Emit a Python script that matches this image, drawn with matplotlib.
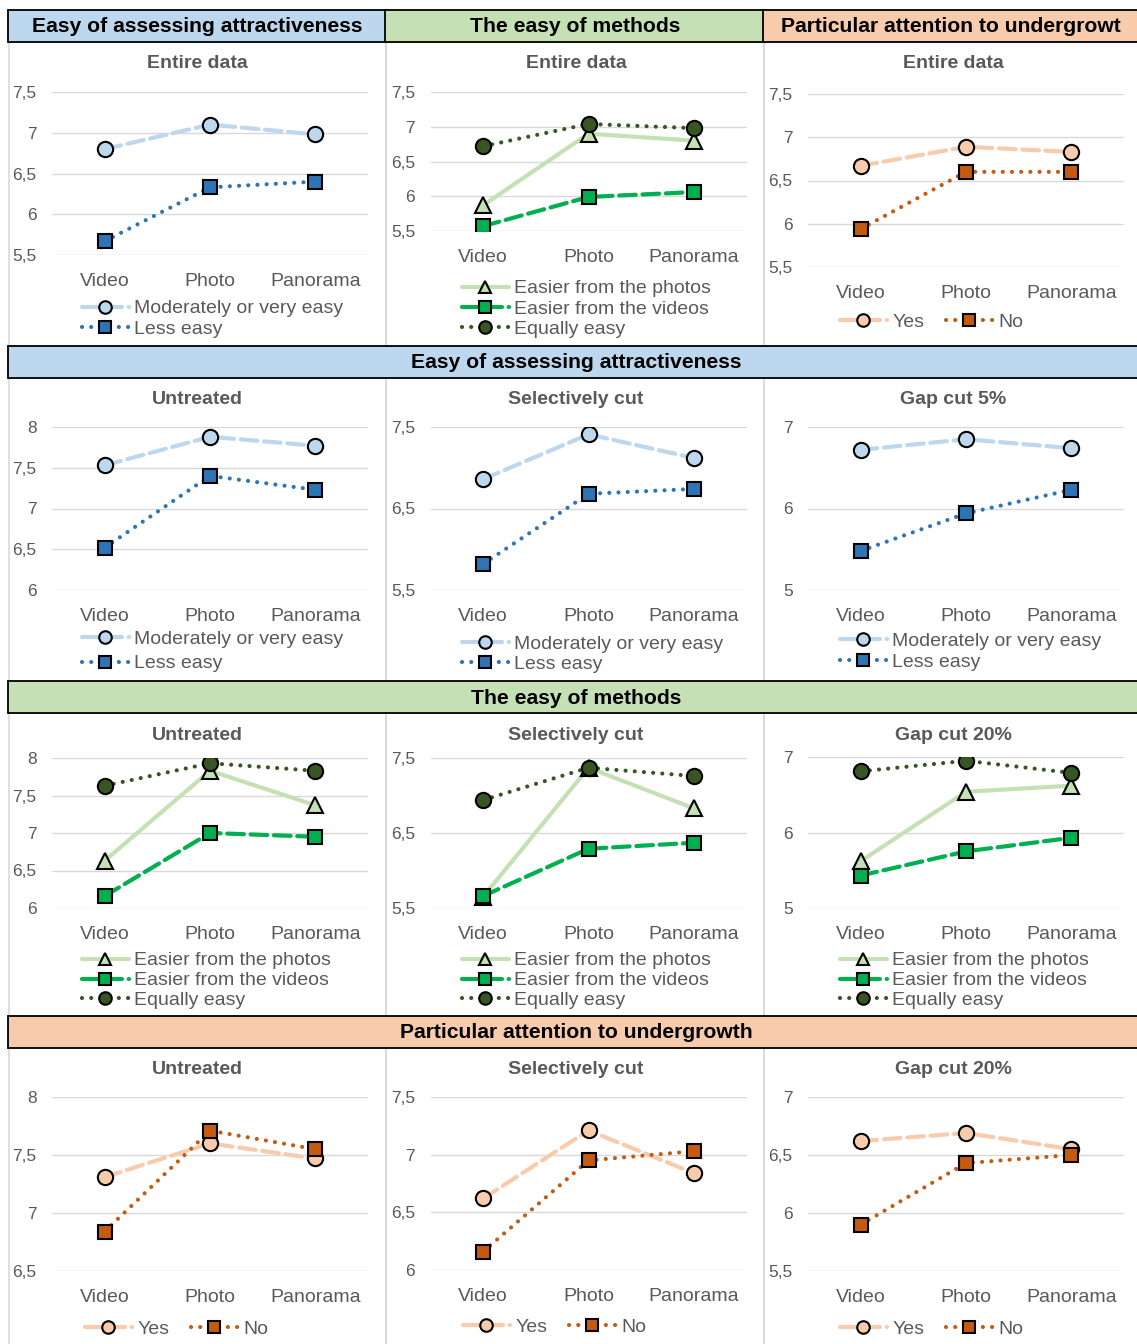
import numpy as np
import matplotlib.pyplot as plt
from matplotlib.patches import Rectangle
from matplotlib.ticker import FuncFormatter

plt.rcParams['font.family'] = ['Liberation Sans', 'DejaVu Sans']

W, H = 1137, 1344
cats = ['Video', 'Photo', 'Panorama']

# --- data ---
# Easy of assessing attractiveness
att_entire_mod = [6.80, 7.10, 6.98]
att_entire_less = [5.67, 6.33, 6.40]
att_untr_mod = [7.53, 7.88, 7.77]
att_untr_less = [6.52, 7.40, 7.23]
att_sel_mod = [6.86, 7.41, 7.12]
att_sel_less = [5.82, 6.68, 6.74]
att_gap5_mod = [6.72, 6.85, 6.74]
att_gap5_less = [5.48, 5.94, 6.23]

# The easy of methods
met_entire_photos = [5.87, 6.90, 6.80]
met_entire_videos = [5.57, 5.99, 6.06]
met_entire_equal = [6.72, 7.04, 6.98]
met_untr_photos = [6.63, 7.83, 7.37]
met_untr_videos = [6.16, 7.00, 6.95]
met_untr_equal = [7.63, 7.93, 7.83]
met_sel_photos = [5.65, 7.37, 6.83]
met_sel_videos = [5.66, 6.29, 6.37]
met_sel_equal = [6.94, 7.37, 7.26]
met_gap20_photos = [5.62, 6.54, 6.62]
met_gap20_videos = [5.43, 5.75, 5.93]
met_gap20_equal = [6.81, 6.95, 6.79]

# Particular attention to undergrowth
und_entire_yes = [6.67, 6.89, 6.83]
und_entire_no = [5.94, 6.60, 6.60]
und_untr_yes = [7.31, 7.60, 7.47]
und_untr_no = [6.84, 7.71, 7.55]
und_sel_yes = [6.62, 7.21, 6.84]
und_sel_no = [6.16, 6.95, 7.03]
und_gap20_yes = [6.62, 6.69, 6.55]
und_gap20_no = [5.90, 6.43, 6.50]

labels_att = ['Moderately or very easy', 'Less easy']
labels_met = ['Easier from the photos', 'Easier from the videos', 'Equally easy']
labels_und = ['Yes', 'No']

BLUE_L, BLUE_D = '#BDD7EE', '#2E75B6'
GREEN_L, GREEN_M, GREEN_D = '#C5E0B4', '#00B050', '#375623'
ORANGE_L, ORANGE_D = '#F8CBAD', '#C55A11'
GRAY = '#595959'

dashed = (0, (4, 1.6))
dotted = (0, (0.01, 2.2))
styles = {
    'mod': dict(color=BLUE_L, ls=dashed, marker='o', ms=11),
    'less': dict(color=BLUE_D, ls=dotted, marker='s', ms=10),
    'photos': dict(color=GREEN_L, ls='-', marker='^', ms=11),
    'videos': dict(color=GREEN_M, ls=dashed, marker='s', ms=10),
    'equal': dict(color=GREEN_D, ls=dotted, marker='o', ms=11),
    'yes': dict(color=ORANGE_L, ls=dashed, marker='o', ms=11),
    'no': dict(color=ORANGE_D, ls=dotted, marker='s', ms=10),
}

col_left = [52, 430.5, 808]
col_mid = [197, 576, 953]
plot_w = 316

# panel: (col, title, title_y, y_top_px, y_bot_px, ylim, yticks, series, labels, legend)
panels = [
    (0, 'Entire data', 64, 92, 255, (5.5, 7.5), [5.5, 6, 6.5, 7, 7.5],
     [('mod', att_entire_mod), ('less', att_entire_less)], labels_att, (82, 319, 1, 0.16)),
    (1, 'Entire data', 64, 92, 231, (5.5, 7.5), [5.5, 6, 6.5, 7, 7.5],
     [('photos', met_entire_photos), ('videos', met_entire_videos), ('equal', met_entire_equal)],
     labels_met, (462, 309, 1, 0.14)),
    (2, 'Entire data', 64, 94, 267, (5.5, 7.5), [5.5, 6, 6.5, 7, 7.5],
     [('yes', und_entire_yes), ('no', und_entire_no)], labels_und, (840, 322, 2, 0)),
    (0, 'Untreated', 400, 427, 590, (6, 8), [6, 6.5, 7, 7.5, 8],
     [('mod', att_untr_mod), ('less', att_untr_less)], labels_att, (82, 651.5, 1, 0.33)),
    (1, 'Selectively cut', 400, 427, 590, (5.5, 7.5), [5.5, 6.5, 7.5],
     [('mod', att_sel_mod), ('less', att_sel_less)], labels_att, (462, 654, 1, 0.12)),
    (2, 'Gap cut 5%', 400, 427, 590, (5, 7), [5, 6, 7],
     [('mod', att_gap5_mod), ('less', att_gap5_less)], labels_att, (840, 651.5, 1, 0.2)),
    (0, 'Untreated', 735, 758, 908, (6, 8), [6, 6.5, 7, 7.5, 8],
     [('photos', met_untr_photos), ('videos', met_untr_videos), ('equal', met_untr_equal)],
     labels_met, (82, 980.5, 1, 0.12)),
    (1, 'Selectively cut', 735, 758, 908, (5.5, 7.5), [5.5, 6.5, 7.5],
     [('photos', met_sel_photos), ('videos', met_sel_videos), ('equal', met_sel_equal)],
     labels_met, (462, 980.5, 1, 0.12)),
    (2, 'Gap cut 20%', 735, 757, 908, (5, 7), [5, 6, 7],
     [('photos', met_gap20_photos), ('videos', met_gap20_videos), ('equal', met_gap20_equal)],
     labels_met, (840, 980.5, 1, 0.12)),
    (0, 'Untreated', 1070, 1097, 1271, (6.5, 8), [6.5, 7, 7.5, 8],
     [('yes', und_untr_yes), ('no', und_untr_no)], labels_und, (85, 1329, 2, 0)),
    (1, 'Selectively cut', 1070, 1097, 1270, (6, 7.5), [6, 6.5, 7, 7.5],
     [('yes', und_sel_yes), ('no', und_sel_no)], labels_und, (463, 1327, 2, 0)),
    (2, 'Gap cut 20%', 1070, 1097, 1271, (5.5, 7), [5.5, 6, 6.5, 7],
     [('yes', und_gap20_yes), ('no', und_gap20_no)], labels_und, (840, 1329, 2, 0)),
]

fig = plt.figure(figsize=(W / 100, H / 100), dpi=100)
fig.patch.set_facecolor('white')

# background layer in pixel coordinates
bg = fig.add_axes([0, 0, 1, 1], zorder=0)
bg.set_xlim(0, W)
bg.set_ylim(H, 0)
bg.axis('off')

# panel frames
row_spans = [(42, 346), (378, 681), (713, 1016), (1048, 1350)]
col_spans = [(9, 386), (386, 764), (764, 1145)]
for y0, y1 in row_spans:
    for x0, x1 in col_spans:
        bg.add_patch(Rectangle((x0, y0), x1 - x0, y1 - y0, fill=False,
                               edgecolor='#D9D9D9', lw=1.2))

# section headers
head_kw = dict(ha='center', va='center', fontsize=15.2, fontweight='bold', color='black')
for (x0, x1), fc, txt in zip(col_spans, [BLUE_L, GREEN_L, ORANGE_L],
                             ['Easy of assessing attractiveness', 'The easy of methods',
                              'Particular attention to undergrowt']):
    bg.add_patch(Rectangle((x0 - 1, 10), x1 - x0 + 1, 32, facecolor=fc,
                           edgecolor='black', lw=1.3))
    bg.text((x0 + min(x1, W)) / 2, 27, txt, **head_kw)

for y0, fc, txt in [(346, BLUE_L, 'Easy of assessing attractiveness'),
                    (681, GREEN_L, 'The easy of methods'),
                    (1016, ORANGE_L, 'Particular attention to undergrowth')]:
    bg.add_patch(Rectangle((8, y0), W, 32, facecolor=fc, edgecolor='black', lw=1.3))
    bg.text(576, y0 + 17, txt, **head_kw)

fmt = FuncFormatter(lambda v, p: f'{v:g}'.replace('.', ','))

for col, title, ty, ytop, ybot, ylim, yticks, series, labels, leg in panels:
    bg.text(col_mid[col], ty, title, ha='center', va='center', fontsize=14,
            fontweight='bold', color=GRAY)
    ax = fig.add_axes([col_left[col] / W, 1 - ybot / H, plot_w / W, (ybot - ytop) / H],
                      zorder=2)
    ax.patch.set_alpha(0)
    handles = []
    for key, vals in series:
        st = styles[key]
        h, = ax.plot(range(3), vals, color=st['color'], ls=st['ls'], lw=3,
                     dash_capstyle='round', solid_capstyle='round',
                     marker=st['marker'], ms=st['ms'], mfc=st['color'],
                     mec='black', mew=1.5)
        handles.append(h)
    ax.set_xlim(-0.5, 2.5)
    ax.set_ylim(*ylim)
    ax.set_yticks(yticks)
    ax.yaxis.set_major_formatter(fmt)
    ax.set_xticks(range(3))
    ax.set_xticklabels(cats)
    ax.tick_params(axis='y', length=0, pad=11, labelsize=12.5, labelcolor=GRAY)
    ax.tick_params(axis='x', length=0, pad=12.7, labelsize=14, labelcolor=GRAY)
    ax.grid(axis='y', color='#D9D9D9', lw=1)
    ax.set_axisbelow(True)
    for s in ax.spines.values():
        s.set_visible(False)
    lx, ly, ncol, lsp = leg
    ax.legend(handles, labels, loc='center left', ncol=ncol,
              bbox_to_anchor=(lx / W, 1 - ly / H), bbox_transform=fig.transFigure,
              frameon=False, fontsize=14, labelcolor=GRAY, borderpad=0,
              borderaxespad=0, handlelength=2.4, handletextpad=0.3,
              labelspacing=lsp, columnspacing=1.1, markerscale=0.82)

fig.savefig('out.png', dpi=100, facecolor='white')
